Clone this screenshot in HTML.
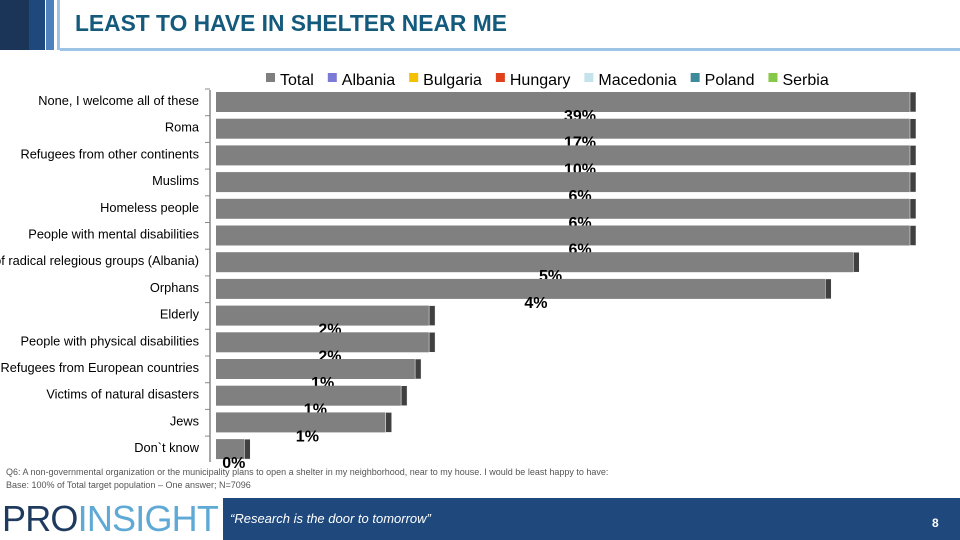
<!DOCTYPE html>
<html><head><meta charset="utf-8">
<style>
body{margin:0;width:960px;height:540px;overflow:hidden;background:#fff;font-family:"Liberation Sans",sans-serif;position:relative}
.abs{position:absolute}
</style></head><body>
<div class="abs" style="left:0;top:0;width:29px;height:50px;background:#1b3559"></div>
<div class="abs" style="left:29px;top:0;width:16px;height:50px;background:#1f497d"></div>
<div class="abs" style="left:46px;top:0;width:8px;height:50px;background:#4f81bd"></div>
<div class="abs" style="left:57px;top:0;width:3px;height:50px;background:#9dc3e6"></div>
<div class="abs" style="left:60px;top:48px;width:900px;height:3px;background:#9dc3e6"></div>
<div class="abs" style="left:75px;top:10px;font-size:22.8px;font-weight:bold;color:#135a7c">LEAST TO HAVE IN SHELTER NEAR ME</div>

<svg class="abs" style="left:0;top:0" width="960" height="540" id="chart"></svg>

<div class="abs" style="left:6px;top:467px;font-size:9px;color:#555">Q6: A non-governmental organization or the municipality plans to open a shelter in my neighborhood, near to my house. I would be least happy to have:</div>
<div class="abs" style="left:6px;top:480px;font-size:9px;color:#555">Base: 100% of Total target population – One answer; N=7096</div>
<div class="abs" style="left:2px;top:499px;font-size:36px;letter-spacing:-0.8px;line-height:40px;font-weight:300"><span style="color:#1f3a5f">PRO</span><span style="color:#5ea9d6">INSIGHT</span></div>
<div class="abs" style="left:223px;top:498px;width:737px;height:42px;background:#1f497d"></div>
<div class="abs" style="left:230px;top:511px;font-size:13px;font-style:italic;color:#fff">“Research is the door to tomorrow”</div>
<div class="abs" style="left:932px;top:516px;font-size:12px;font-weight:bold;color:#fff">8</div>

<script>
const categories=["None, I welcome all of these","Roma","Refugees from other continents","Muslims","Homeless people","People with mental disabilities","Members of radical relegious groups (Albania)","Orphans","Elderly","People with physical disabilities","Refugees from European countries","Victims of natural disasters","Jews","Don`t know"];
const totalValues=[100,100,100,100,100,100,91.9,87.9,31.3,31.3,29.3,27.3,25.1,4.9];
const valueLabels=["39%","17%","10%","6%","6%","6%","5%","4%","2%","2%","1%","1%","1%","0%"];
const legendNames=["Total","Albania","Bulgaria","Hungary","Macedonia","Poland","Serbia"];
const legendColors=["#7f7f7f","#7b7bd6","#f5c000","#e0401b","#c4e3ea","#3d8a9b","#86c848"];

const svg=document.getElementById('chart');
const NS="http://www.w3.org/2000/svg";
const x0=216,xMax=916,y0=92,step=26.7,barH=20;
const xs=v=>x0+(xMax-x0)*v/100;
const ys=i=>y0+i*step;
function mk(t,a){const e=document.createElementNS(NS,t);for(const k in a)e.setAttribute(k,a[k]);svg.appendChild(e);return e;}
let ax=mk('line',{x1:210,y1:90,x2:210,y2:462,stroke:'#888','stroke-width':1.5});


categories.forEach((c,i)=>{
  const y=ys(i);
  const t=mk('line',{x1:205,x2:210,y1:y-3,y2:y-3,stroke:'#888'});
  
  
  const lab=mk('text',{x:199,y:y+13,'text-anchor':'end','font-size':12.8,fill:'#000','font-family':'"Liberation Sans",sans-serif'});
  lab.textContent=c;
  
  
  const end=xs(totalValues[i]);
  const b=mk('rect',{x:x0,y:y,width:end-x0-6,height:barH,fill:'#808080'});
  
  
  const d=mk('rect',{x:end-6,y:y,width:6,height:barH,fill:'#404040',stroke:'#fff','stroke-width':0.5});
  
  
  const v=mk('text',{x:x0+(end-x0)*0.52,y:y+29,'text-anchor':'middle','font-size':16,'font-weight':'bold',fill:'#000','font-family':'"Liberation Sans",sans-serif'});
  v.textContent=valueLabels[i];
  
  
});
let lx=266;
legendNames.forEach((n,i)=>{
  const r=mk('rect',{x:lx,y:73,width:9,height:9,fill:legendColors[i]});
  
  
  const t=mk('text',{x:lx+14,y:85,'font-size':16,fill:'#000','font-family':'"Liberation Sans",sans-serif'});
  t.textContent=n;
  
  
  lx+=14+t.getComputedTextLength()+14;
});
</script>
</body></html>
